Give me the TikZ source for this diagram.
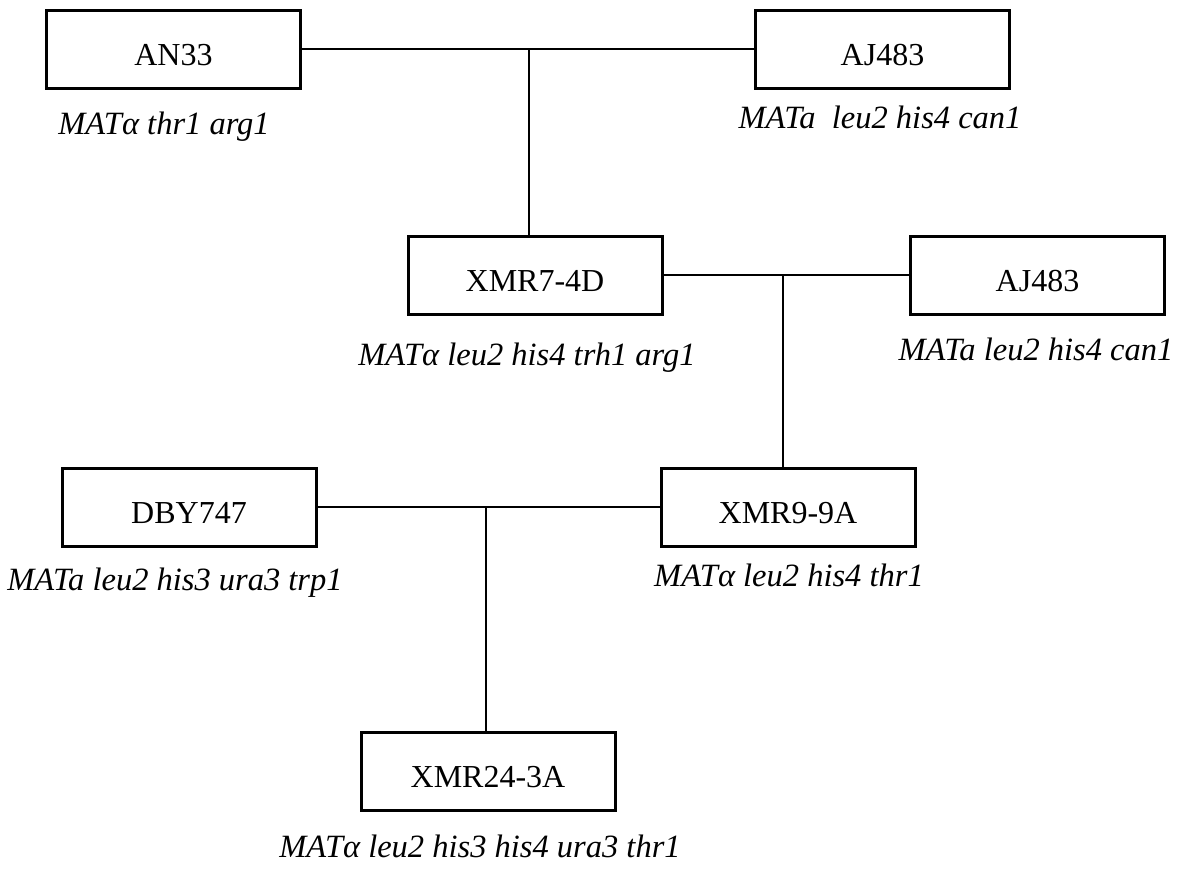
\documentclass[tikz,border=0pt]{standalone}
\usepackage{fontspec}
\setmainfont{Liberation Serif}
\begin{document}
\begin{tikzpicture}[x=1pt,y=-1pt,
  strain/.style={draw,line width=3pt,minimum width=254pt,minimum height=78pt,inner sep=0pt,
    text height=33pt,text depth=0pt,font=\fontsize{32}{36}\selectfont},
  geno/.style={anchor=base,inner sep=0pt,font=\fontsize{32.5}{36}\selectfont\itshape},
  cross/.style={line width=2.8pt}]
  \useasboundingbox (0,0) rectangle (1191,873);
  % strains
  \node[strain] (an33) at (173.5,49) {AN33};
  \node[strain] (aj483a) at (882.5,49) {AJ483};
  \node[strain] (xmr7) at (535,275) {XMR7-4D};
  \node[strain] (aj483b) at (1037.5,275) {AJ483};
  \node[strain] (dby747) at (189,507) {DBY747};
  \node[strain] (xmr9) at (788,507) {XMR9-9A};
  \node[strain] (xmr24) at (488,771) {XMR24-3A};
  % genotypes
  \node[geno] (an33g) at (164,134) {MATα thr1 arg1};
  \node[geno] (aj483ag) at (880,128) {MATa\hspace{.25em} leu2 his4 can1};
  \node[geno] (xmr7g) at (527,365) {MATα leu2 his4 trh1 arg1};
  \node[geno] (aj483bg) at (1036,360) {MATa leu2 his4 can1};
  \node[geno] (dby747g) at (175,590) {MATa leu2 his3 ura3 trp1};
  \node[geno] (xmr9g) at (789,586) {MATα leu2 his4 thr1};
  \node[geno] (xmr24g) at (480,857) {MATα leu2 his3 his4 ura3 thr1};
  % crosses
  \coordinate (c1) at (529,49); \coordinate (c2) at (783,275); \coordinate (c3) at (486,507);
  \draw[cross] (an33) -- (aj483a); \draw[cross] (c1) -- (c1 |- xmr7.north);
  \draw[cross] (xmr7) -- (aj483b); \draw[cross] (c2) -- (c2 |- xmr9.north);
  \draw[cross] (dby747) -- (xmr9); \draw[cross] (c3) -- (c3 |- xmr24.north);
\end{tikzpicture}
\end{document}
